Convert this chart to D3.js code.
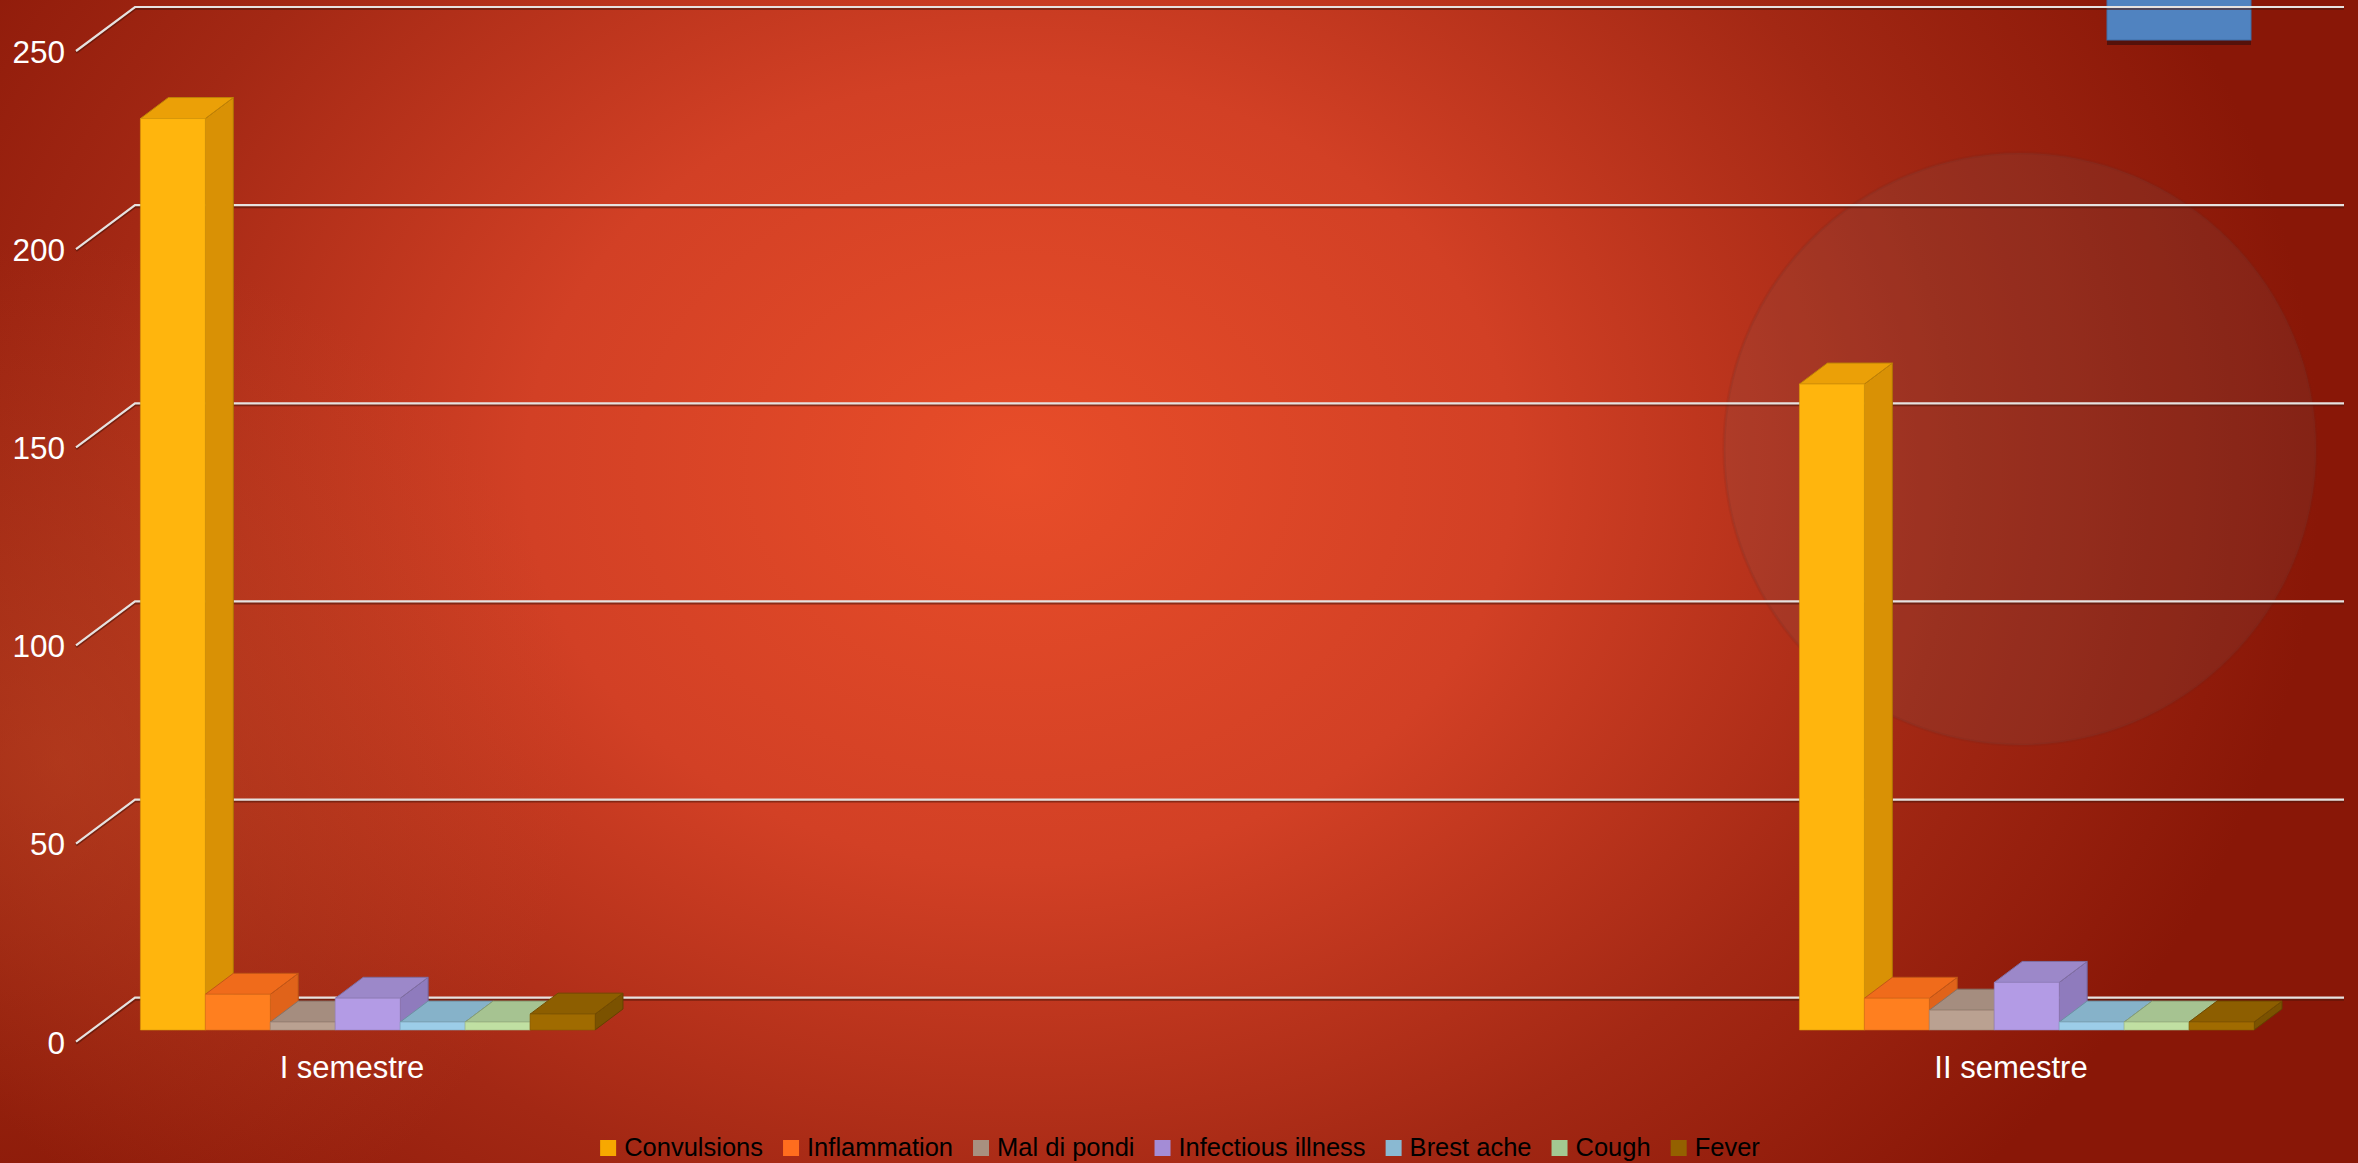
<!DOCTYPE html>
<html>
<head>
<meta charset="utf-8">
<script src="https://cdn.jsdelivr.net/npm/d3@7"></script>
<style>
  html, body { margin: 0; padding: 0; background: #8a1a08; overflow: hidden; }
  svg { display: block; }
  .tick text { font-family: "Liberation Sans", Arial, sans-serif; fill: #fff; }
  .legend text { font-family: "Liberation Sans", Arial, sans-serif; fill: #000; }
</style>
</head>
<body>
<div id="chart"></div>
<script>
// data
const categories = ["I semestre", "II semestre"];
const seriesNames = ["Convulsions", "Inflammation", "Mal di pondi", "Infectious illness", "Brest ache", "Cough", "Fever"];
const convulsions = [230, 163];
const inflammation = [9, 8];
const malDiPondi = [2, 5];
const infectious = [8, 12];
const brestAche = [2, 2];
const cough = [2, 2];
const fever = [4, 2];
const yTicks = [0, 50, 100, 150, 200, 250];

const seriesValues = [convulsions, inflammation, malDiPondi, infectious, brestAche, cough, fever];

// front / top / side shades per series
const palette = [
  { front: "#ffb50d", top: "#eba007", side: "#d99105", legend: "#f7a800" },
  { front: "#ff7f1f", top: "#f06b1b", side: "#e0631a", legend: "#ff6d1e" },
  { front: "#baa191", top: "#a58d7f", side: "#96806f", legend: "#a8907f" },
  { front: "#b39be5", top: "#9c88c9", side: "#8f7bbd", legend: "#a48cd6" },
  { front: "#9ccde8", top: "#86b2c9", side: "#78a3ba", legend: "#8ab9d2" },
  { front: "#c0e0a2", top: "#a6c391", side: "#97b383", legend: "#a3c891" },
  { front: "#a06b00", top: "#8d5e00", side: "#7b5200", legend: "#946100" },
];

const width = 2358, height = 1163;
const svg = d3.select("#chart").append("svg").attr("width", width).attr("height", height);

// background
const defs = svg.append("defs");
const bg = defs.append("radialGradient")
  .attr("id", "bg")
  .attr("gradientUnits", "userSpaceOnUse")
  .attr("cx", 1020).attr("cy", 470).attr("r", 1300)
  .attr("gradientTransform", "translate(1020,470) scale(1,0.8) translate(-1020,-470)");
bg.append("stop").attr("offset", 0).attr("stop-color", "#e84d29");
bg.append("stop").attr("offset", 0.38).attr("stop-color", "#d24025");
bg.append("stop").attr("offset", 0.72).attr("stop-color", "#a32814");
bg.append("stop").attr("offset", 1).attr("stop-color", "#891707");

const glow = defs.append("radialGradient")
  .attr("id", "glow")
  .attr("gradientUnits", "userSpaceOnUse")
  .attr("cx", 60).attr("cy", 760).attr("r", 520);
glow.append("stop").attr("offset", 0).attr("stop-color", "#c8502a").attr("stop-opacity", 0.45);
glow.append("stop").attr("offset", 1).attr("stop-color", "#c8502a").attr("stop-opacity", 0);

svg.append("rect").attr("width", width).attr("height", height).attr("fill", "url(#bg)");
svg.append("rect").attr("width", width).attr("height", height).attr("fill", "url(#glow)");

// slide decorations behind the chart
svg.append("circle")
  .attr("cx", 2020).attr("cy", 449).attr("r", 296)
  .attr("fill", "#6e605d").attr("fill-opacity", 0.17)
  .attr("stroke", "#6a2a20").attr("stroke-opacity", 0.15).attr("stroke-width", 3);
svg.append("rect").attr("x", 2107).attr("y", 40).attr("width", 144).attr("height", 5).attr("fill", "#55110a");
svg.append("rect").attr("x", 2107).attr("y", -2).attr("width", 144).attr("height", 42)
  .attr("fill", "#5083c0").attr("stroke", "#3f6ea8").attr("stroke-width", 1);

// 3d geometry
const wallDx = 59, wallDy = -44;      // front axis -> back wall
const barOffX = 15.7, barOffY = -11.7; // front axis -> bar front
const depthX = 28, depthY = -21;       // bar depth

const y = d3.scaleLinear().domain([0, 250]).range([1041.7, 51]);
const x0 = d3.scaleBand().domain(categories).range([124.7, 2238.3]).paddingInner(0.726).paddingOuter(0);
const x1 = d3.scaleBand().domain(seriesNames).range([0, x0.bandwidth()]).padding(0);

const axisX = 76, wallRight = 2344;

// gridlines on the back wall with the diagonal to the front
const grid = svg.append("g");
yTicks.forEach(t => {
  const yf = y(t);
  const pts = [[axisX, yf], [axisX + wallDx, yf + wallDy], [wallRight, yf + wallDy]];
  grid.append("path").attr("d", d3.line()(pts.map(p => [p[0], p[1] + 1.5])))
    .attr("fill", "none").attr("stroke", "#4a1408").attr("stroke-opacity", 0.55).attr("stroke-width", 3);
  grid.append("path").attr("d", d3.line()(pts))
    .attr("fill", "none").attr("stroke", "#e6e2e0").attr("stroke-width", 2.2);
});

// y tick labels
const yAxis = svg.append("g")
  .attr("transform", `translate(${axisX - 6},0)`)
  .call(d3.axisLeft(y).tickValues(yTicks).tickSize(0).tickPadding(5));
yAxis.select(".domain").remove();
yAxis.selectAll("text").style("font-size", "31.5px").attr("dy", "0.36em");

// bars
const bars = svg.append("g");
categories.forEach((cat, ci) => {
  seriesNames.forEach((name, si) => {
    const v = seriesValues[si][ci];
    const c = palette[si];
    const xl = x0(cat) + x1(name) + barOffX;
    const xr = xl + x1.bandwidth();
    const yt = y(v) + barOffY;
    const yb = y(0) + barOffY;
    const g = bars.append("g").attr("stroke-width", 1).attr("stroke-linejoin", "round");
    g.append("path")
      .attr("d", d3.line()([[xr, yt], [xr + depthX, yt + depthY], [xr + depthX, yb + depthY], [xr, yb]]) + "Z")
      .attr("fill", c.side).attr("stroke", d3.color(c.side).darker(0.6));
    g.append("path")
      .attr("d", d3.line()([[xl, yt], [xl + depthX, yt + depthY], [xr + depthX, yt + depthY], [xr, yt]]) + "Z")
      .attr("fill", c.top).attr("stroke", d3.color(c.top).darker(0.6));
    g.append("rect")
      .attr("x", xl).attr("y", yt).attr("width", xr - xl).attr("height", yb - yt)
      .attr("fill", c.front).attr("stroke", d3.color(c.front).darker(0.5)).attr("stroke-opacity", 0.6);
  });
});

// category labels
const xAxis = svg.append("g")
  .attr("transform", "translate(0,1056)")
  .call(d3.axisBottom(x0).tickSize(0).tickPadding(0));
xAxis.select(".domain").remove();
xAxis.selectAll("text").style("font-size", "31px");

// legend
const legend = svg.append("g").attr("class", "legend");
const fontSize = 25.5, sw = 16, gapIn = 8, gapOut = 20;
let cursor = 0;
seriesNames.forEach((name, i) => {
  const it = legend.append("g");
  it.append("rect").attr("x", 0).attr("y", -sw).attr("width", sw).attr("height", sw).attr("fill", palette[i].legend);
  const tx = it.append("text").attr("x", sw + gapIn).attr("y", 0).style("font-size", fontSize + "px").text(name);
  const w = sw + gapIn + tx.node().getComputedTextLength();
  it.attr("transform", `translate(${cursor},0)`);
  cursor += w + gapOut;
});
const total = cursor - gapOut;
legend.attr("transform", `translate(${1180 - total / 2},1156)`);
</script>
</body>
</html>
